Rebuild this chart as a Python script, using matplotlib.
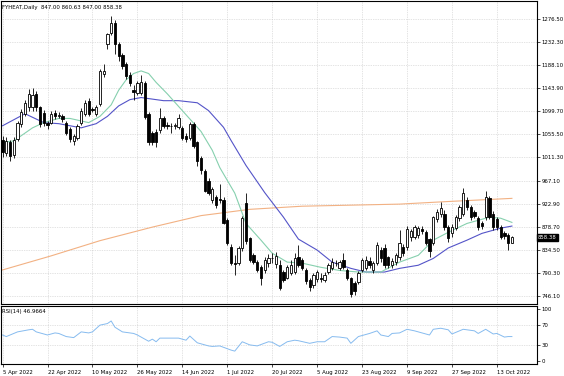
import numpy as np
import matplotlib
matplotlib.use('Agg')
import matplotlib.pyplot as plt

# daily OHLC, bar 0 = 5 Apr 2022
opens = [1045, 1020, 1040, 1016, 1047, 1076, 1095, 1107, 1107, 1133, 1107, 1097, 1078, 1078, 1097, 1091, 1090, 1078, 1066, 1043,
         1049, 1078, 1095, 1120, 1105, 1095, 1114, 1172, 1228, 1250, 1268, 1229, 1208, 1190, 1170, 1140, 1135, 1135, 1154, 1095,
         1059, 1060, 1063, 1087, 1073, 1072, 1072, 1070, 1068, 1053, 1049, 1076, 1040, 1010, 986, 967, 930, 935, 932, 929,
         891, 840, 810, 809, 838, 925, 857, 824, 811, 802, 796, 810, 818, 808, 805, 792, 781, 790, 792, 820,
         815, 795, 777, 768, 778, 781, 777, 792, 799, 810, 800, 815, 795, 780, 771, 773, 796, 800, 814, 795,
         809, 834, 838, 820, 806, 811, 820, 840, 840, 859, 860, 862, 874, 868, 855, 848, 893, 903, 904, 878,
         866, 876, 895, 904, 930, 916, 906, 895, 885, 897, 933, 904, 893, 878, 866, 862, 847.00]
highs = [1052, 1050, 1045, 1050, 1082, 1105, 1122, 1143, 1145, 1138, 1110, 1102, 1082, 1100, 1102, 1098, 1095, 1082, 1070, 1056,
         1076, 1106, 1122, 1126, 1108, 1112, 1180, 1190, 1250, 1282, 1275, 1232, 1212, 1194, 1174, 1150, 1158, 1170, 1158, 1098,
         1062, 1065, 1106, 1090, 1080, 1078, 1078, 1095, 1072, 1058, 1080, 1080, 1042, 1015, 990, 972, 955, 940, 960, 935,
         895, 845, 825, 842, 900, 943, 860, 828, 815, 806, 820, 826, 828, 830, 815, 796, 805, 815, 828, 843,
         818, 800, 780, 790, 796, 790, 792, 810, 818, 815, 815, 828, 800, 783, 775, 794, 819, 822, 820, 813,
         850, 840, 845, 823, 818, 828, 872, 845, 880, 875, 882, 880, 880, 872, 858, 900, 912, 926, 910, 882,
         884, 902, 920, 952, 935, 920, 910, 900, 890, 948, 938, 908, 898, 882, 870, 866, 860.63]
lows = [1012, 1015, 1005, 1010, 1042, 1070, 1090, 1100, 1100, 1100, 1070, 1072, 1066, 1075, 1085, 1086, 1080, 1055, 1040, 1036,
        1045, 1074, 1090, 1090, 1098, 1090, 1110, 1165, 1219, 1246, 1210, 1196, 1180, 1162, 1148, 1122, 1130, 1130, 1085, 1035,
        1035, 1032, 1058, 1068, 1065, 1058, 1066, 1066, 1045, 1040, 1045, 1030, 995, 980, 945, 940, 925, 915, 925, 883,
        843, 805, 786, 805, 832, 845, 812, 808, 793, 767, 790, 802, 810, 800, 758, 772, 778, 786, 788, 802,
        795, 770, 755, 762, 772, 772, 772, 788, 795, 803, 796, 798, 776, 744, 748, 770, 792, 796, 800, 790,
        805, 812, 800, 800, 800, 806, 815, 822, 835, 852, 855, 857, 865, 843, 820, 843, 888, 898, 873, 850,
        860, 872, 890, 900, 910, 892, 895, 872, 875, 892, 893, 872, 872, 855, 855, 834, 847.00]
closes = [1021, 1043, 1015, 1045, 1078, 1098, 1116, 1133, 1130, 1107, 1076, 1078, 1073, 1095, 1090, 1092, 1084, 1059, 1047, 1052,
          1072, 1101, 1116, 1095, 1102, 1107, 1177, 1177, 1248, 1268, 1229, 1206, 1187, 1168, 1154, 1136, 1154, 1155, 1088, 1040,
          1040, 1040, 1087, 1072, 1072, 1071, 1073, 1087, 1049, 1047, 1076, 1034, 1005, 988, 948, 943, 950, 920, 930, 885,
          847, 809, 808, 838, 895, 852, 815, 811, 796, 780, 815, 819, 819, 822, 762, 777, 801, 805, 818, 805,
          800, 775, 764, 786, 792, 779, 786, 805, 811, 809, 811, 801, 780, 750, 755, 790, 815, 815, 805, 809,
          843, 818, 805, 806, 814, 824, 847, 828, 874, 870, 878, 876, 870, 847, 832, 897, 906, 914, 878, 857,
          878, 897, 916, 943, 916, 897, 900, 878, 880, 935, 897, 878, 878, 860, 861, 848, 858.38]

# moving averages (bar index, value)
ma_fast_bars = [0, 3, 8, 11, 15, 18, 23, 26, 29, 31, 33, 35, 37, 39, 41, 44, 48, 53, 56, 58, 62, 65, 69, 72, 76, 80,
                85, 90, 95, 101, 106, 111, 115, 119, 124, 128, 130, 133, 136]
ma_fast = [1040, 1043, 1068, 1078, 1086, 1086, 1078, 1090, 1112, 1140, 1160, 1172, 1177, 1172, 1155, 1133, 1101, 1061, 1025,
           992, 943, 885, 853, 828, 811, 809, 801, 795, 792, 792, 811, 824, 853, 868, 885, 893, 897, 895, 887]
ma_mid_bars = [0, 6, 11, 15, 21, 25, 28, 31, 34, 37, 39, 43, 47, 52, 55, 59, 61, 65, 70, 75, 79, 84, 88, 93, 97,
               102, 106, 111, 115, 119, 124, 128, 133, 136]
ma_mid = [1072, 1095, 1078, 1076, 1068, 1076, 1090, 1110, 1122, 1126, 1124, 1120, 1120, 1116, 1101, 1069, 1044, 996,
          944, 897, 855, 834, 811, 799, 792, 792, 799, 805, 818, 838, 853, 866, 876, 880]
ma_slow_bars = [0, 13, 26, 40, 53, 66, 80, 93, 106, 119, 136]
ma_slow = [796, 823, 852, 878, 900, 912, 918, 920, 922, 927, 933]

rsi_bars = [0, 1, 4, 7, 8, 9, 12, 14, 15, 17, 19, 21, 23, 24, 26, 28, 29, 30, 32, 35, 36, 39, 40, 41, 42, 45, 47, 49,
            50, 52, 55, 56, 58, 61, 62, 64, 66, 68, 71, 72, 74, 76, 78, 79, 82, 84, 86, 88, 90, 92, 93, 95, 98, 100,
            101, 103, 104, 106, 108, 110, 111, 114, 115, 117, 119, 120, 122, 123, 126, 127, 129, 131, 132, 134, 135, 136]
rsi = [50, 47, 56, 60, 61, 56, 50, 54, 53, 47, 45, 56, 54, 56, 69, 72, 77, 65, 56, 53, 50, 38, 42, 37, 44, 44, 44, 40,
       48, 35, 29, 28, 29, 21, 19, 37, 31, 29, 37, 36, 28, 37, 40, 39, 34, 37, 37, 47, 46, 44, 34, 47, 53, 58,
       50, 47, 53, 54, 61, 58, 56, 50, 61, 63, 60, 52, 58, 61, 58, 53, 61, 52, 53, 46, 47, 46.97]

price_ticks = [1276.50, 1232.30, 1188.10, 1143.90, 1099.70, 1055.50, 1011.30, 967.10, 922.90, 878.70, 834.50, 790.30, 746.10]
date_labels = ['5 Apr 2022', '22 Apr 2022', '10 May 2022', '26 May 2022', '14 Jun 2022', '1 Jul 2022',
               '20 Jul 2022', '5 Aug 2022', '23 Aug 2022', '9 Sep 2022', '27 Sep 2022', '13 Oct 2022']
rsi_ticks = [100, 70, 30, 0]

FS = 3.9
GRID = dict(color='#c8c8c8', linestyle=(0, (1, 1.5)), linewidth=0.5)

fig = plt.figure(figsize=(5.64, 3.76), dpi=100)
W, H = 564, 376
ax = fig.add_axes([0.5 / W, 1 - 304 / H, 536.5 / W, 303 / H])
ax2 = fig.add_axes([0.5 / W, 1 - 364 / H, 536.5 / W, 58 / H])

x = np.arange(len(closes))
xlim = (-0.55, 142.7)

# grid
for t in price_ticks:
    ax.axhline(t, zorder=0, **GRID)
for k in range(len(date_labels)):
    ax.axvline(k * 12, zorder=0, **GRID)
    ax2.axvline(k * 12, zorder=0, **GRID)
for t in [70, 30]:
    ax2.axhline(t, zorder=0, **GRID)

# candles
o = np.array(opens); c = np.array(closes)
ax.vlines(x, lows, highs, color='black', linewidth=0.6, zorder=3)
up = c >= o
bottom = np.minimum(o, c)
height = np.maximum(np.abs(c - o), 1.2)
ax.bar(x[up], height[up], bottom=bottom[up], width=0.62, color='white', edgecolor='black', linewidth=0.6, zorder=4)
ax.bar(x[~up], height[~up], bottom=bottom[~up], width=0.62, color='black', edgecolor='black', linewidth=0.6, zorder=4)

# moving averages
ax.plot(ma_slow_bars, ma_slow, color='#f2b183', linewidth=0.8, zorder=2)
ax.plot(ma_mid_bars, ma_mid, color='#5454c8', linewidth=0.8, zorder=2)
ax.plot(ma_fast_bars, ma_fast, color='#86d0ae', linewidth=0.8, zorder=2)

ax.set_xlim(*xlim)
ax.set_ylim(730.8, 1310.8)
ax.set_xticks([])
ax.yaxis.tick_right()
ax.set_yticks(price_ticks)
ax.set_yticklabels([f'{t:.2f}' for t in price_ticks], fontsize=FS)
ax.tick_params(axis='y', length=2.5, width=0.5, pad=1, colors='black')
ax.text(2 / 536.5, 1 - 6 / 303, 'FYHEAT,Daily  847.00 860.63 847.00 858.38', transform=ax.transAxes,
        fontsize=FS, va='center', ha='left')
ax.text(1.002, closes[-1], f'{closes[-1]:.2f}', transform=ax.get_yaxis_transform(), fontsize=FS,
        va='center', ha='left', color='white',
        bbox=dict(boxstyle='square,pad=0.15', facecolor='black', edgecolor='black'))

# RSI
ax2.plot(rsi_bars, rsi, color='#86bbef', linewidth=0.7)
ax2.set_xlim(*xlim)
ax2.set_ylim(-5.8, 105.8)
ax2.yaxis.tick_right()
ax2.set_yticks(rsi_ticks)
ax2.set_yticklabels([str(t) for t in rsi_ticks], fontsize=FS)
ax2.tick_params(axis='y', length=2.5, width=0.5, pad=1)
ax2.set_xticks([k * 12 for k in range(len(date_labels))])
ax2.set_xticklabels(date_labels, fontsize=FS, ha='left')
ax2.tick_params(axis='x', length=2.5, width=0.5, pad=1.5)
ax2.text(2 / 536.5, 1 - 6 / 58, 'RSI(14) 46.9664', transform=ax2.transAxes, fontsize=FS, va='center', ha='left')

for a in (ax, ax2):
    for s in a.spines.values():
        s.set_linewidth(0.8)

fig.savefig('out.png', dpi=100)
